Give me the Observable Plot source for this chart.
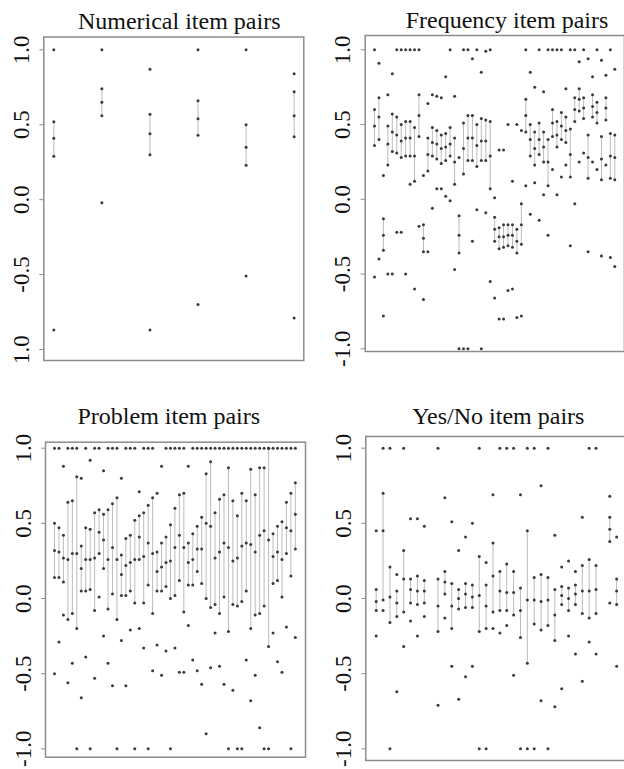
<!DOCTYPE html>
<html><head><meta charset="utf-8">
<script src="https://cdn.jsdelivr.net/npm/d3@7"></script>
<script src="https://cdn.jsdelivr.net/npm/@observablehq/plot@0.6"></script>
<style>
html,body{margin:0;padding:0;background:#fff;}
#root{position:relative;width:624px;height:769px;overflow:hidden;background:#fff;}
#root svg{position:absolute;left:0;top:0;}
#root svg, #root svg text{font-family:"Liberation Serif","Times New Roman","DejaVu Serif",serif !important;}
</style></head><body><div id="root"></div>
<script>
// ---- tick labels ----
const tickValues = [-1, -0.5, 0, 0.5, 1];
const tickLabels = ["-1.0", "-0.5", "0.0", "0.5", "1.0"];
const tickLabelsNumerical = ["1.0", "-0.5", "0.0", "0.5", "1.0"];

// ---- titles ----
const titleNumerical = "Numerical item pairs";
const titleFrequency = "Frequency item pairs";
const titleProblem = "Problem item pairs";
const titleYesNo = "Yes/No item pairs";

// ---- data: per item pair [min, q1, median, q3, max] ----
const numericalStats = [
  [-0.87, 0.29, 0.41, 0.52, 1.0],
  [-0.02, 0.56, 0.65, 0.74, 1.0],
  [-0.87, 0.30, 0.44, 0.57, 0.87],
  [-0.70, 0.43, 0.54, 0.66, 1.0],
  [-0.51, 0.23, 0.35, 0.50, 1.0],
  [-0.79, 0.42, 0.56, 0.72, 0.84]
];

const frequencyStats = [
  [-0.52, 0.36, 0.49, 0.60, 1.0],
  [-0.40, 0.40, 0.55, 0.68, 0.91],
  [-0.78, -0.34, -0.24, -0.13, 0.16],
  [-0.50, 0.23, 0.37, 0.49, 0.70],
  [-0.50, 0.32, 0.45, 0.57, 0.84],
  [-0.22, 0.31, 0.43, 0.55, 1.0],
  [-0.22, 0.28, 0.39, 0.50, 1.0],
  [-0.50, 0.29, 0.41, 0.52, 1.0],
  [0.10, 0.29, 0.41, 0.52, 1.0],
  [-0.60, 0.12, 0.29, 0.48, 1.0],
  [-0.18, 0.42, 0.56, 0.70, 1.0],
  [-0.67, -0.35, -0.26, -0.17, 0.16],
  [-0.35, 0.19, 0.30, 0.41, 0.64],
  [-0.06, 0.29, 0.38, 0.48, 0.70],
  [0.07, 0.27, 0.37, 0.46, 0.69],
  [0.07, 0.24, 0.34, 0.43, 0.68],
  [0.02, 0.26, 0.35, 0.44, 0.82],
  [-0.01, 0.29, 0.37, 0.48, 1.0],
  [-0.47, 0.10, 0.25, 0.41, 0.69],
  [-1.0, -0.36, -0.24, -0.11, 0.28],
  [-1.0, 0.17, 0.34, 0.51, 1.0],
  [-1.0, 0.26, 0.41, 0.56, 1.0],
  [-0.28, 0.26, 0.41, 0.56, 0.94],
  [-0.07, 0.22, 0.36, 0.50, 1.0],
  [-1.0, 0.26, 0.39, 0.54, 0.85],
  [-0.09, 0.26, 0.39, 0.53, 0.99],
  [-0.55, 0.07, 0.29, 0.52, 1.0],
  [-0.66, -0.28, -0.20, -0.12, 0.01],
  [-0.80, -0.33, -0.25, -0.19, 0.33],
  [-0.80, -0.32, -0.25, -0.17, 0.33],
  [-0.61, -0.31, -0.24, -0.17, 0.50],
  [-0.60, -0.32, -0.24, -0.17, 0.12],
  [-0.79, -0.36, -0.28, -0.20, 0.50],
  [-0.78, -0.30, -0.17, -0.03, 0.46],
  [0.09, 0.45, 0.56, 0.67, 1.0],
  [-0.10, 0.29, 0.40, 0.50, 0.85],
  [0.11, 0.23, 0.34, 0.45, 0.75],
  [-0.14, 0.30, 0.40, 0.51, 1.0],
  [0.03, 0.25, 0.35, 0.45, 0.72],
  [-0.24, 0.09, 0.25, 0.40, 1.0],
  [0.20, 0.42, 0.51, 0.60, 1.0],
  [0.03, 0.35, 0.43, 0.52, 1.0],
  [0.15, 0.40, 0.49, 0.58, 1.0],
  [0.23, 0.38, 0.46, 0.55, 0.74],
  [-0.31, 0.15, 0.30, 0.47, 1.0],
  [-0.03, 0.52, 0.60, 0.68, 1.0],
  [0.25, 0.59, 0.67, 0.74, 0.92],
  [0.31, 0.54, 0.61, 0.68, 1.0],
  [-0.35, 0.14, 0.28, 0.43, 0.94],
  [0.25, 0.55, 0.62, 0.70, 0.82],
  [0.20, 0.51, 0.58, 0.65, 1.0],
  [-0.38, 0.13, 0.27, 0.42, 0.93],
  [0.23, 0.53, 0.61, 0.68, 0.83],
  [-0.39, 0.14, 0.29, 0.44, 1.0],
  [-0.45, 0.13, 0.28, 0.43, 0.87]
];

const problemStats = [
  [-0.50, 0.14, 0.32, 0.50, 1.0],
  [-0.29, 0.14, 0.31, 0.47, 1.0],
  [-0.11, 0.11, 0.27, 0.42, 0.88],
  [-0.56, -0.14, 0.26, 0.64, 1.0],
  [-0.43, -0.10, 0.30, 0.65, 1.0],
  [-1.0, -0.20, 0.30, 0.81, 1.0],
  [-0.66, 0.05, 0.20, 0.35, 0.80],
  [-0.39, 0.05, 0.26, 0.47, 1.0],
  [-1.0, 0.06, 0.26, 0.46, 0.92],
  [-0.53, -0.08, 0.27, 0.57, 1.0],
  [0.01, 0.30, 0.44, 0.59, 1.0],
  [-0.25, 0.20, 0.39, 0.56, 0.85],
  [-0.43, -0.07, 0.26, 0.59, 1.0],
  [-0.58, 0.03, 0.34, 0.63, 1.0],
  [-1.0, -0.14, 0.26, 0.67, 1.0],
  [-0.28, 0.02, 0.16, 0.29, 0.80],
  [-0.58, 0.02, 0.22, 0.40, 1.0],
  [-0.21, 0.05, 0.24, 0.42, 1.0],
  [-1.0, -0.03, 0.26, 0.52, 1.0],
  [-0.20, 0.26, 0.41, 0.55, 0.71],
  [-0.33, -0.03, 0.28, 0.57, 1.0],
  [-1.0, 0.09, 0.37, 0.62, 1.0],
  [-0.48, -0.10, 0.30, 0.67, 1.0],
  [-0.31, 0.05, 0.18, 0.31, 0.70],
  [-0.51, 0.05, 0.21, 0.37, 0.88],
  [-0.35, 0.08, 0.24, 0.41, 1.0],
  [-1.0, 0.00, 0.25, 0.49, 1.0],
  [-0.33, 0.02, 0.34, 0.60, 1.0],
  [-0.49, 0.12, 0.42, 0.69, 1.0],
  [-0.49, -0.09, 0.34, 0.70, 1.0],
  [-0.18, 0.09, 0.24, 0.37, 0.88],
  [-0.41, 0.09, 0.26, 0.43, 1.0],
  [-0.48, 0.18, 0.33, 0.48, 1.0],
  [-0.57, 0.10, 0.33, 0.54, 1.0],
  [-0.90, 0.00, 0.50, 0.83, 1.0],
  [-0.46, -0.06, 0.48, 0.91, 1.0],
  [-0.23, -0.04, 0.27, 0.57, 1.0],
  [-0.45, -0.10, 0.31, 0.66, 1.0],
  [-0.57, 0.01, 0.37, 0.69, 1.0],
  [-1.0, -0.22, 0.34, 0.87, 1.0],
  [-0.61, -0.04, 0.25, 0.65, 1.0],
  [-1.0, -0.05, 0.27, 0.55, 1.0],
  [-1.0, -0.02, 0.35, 0.70, 1.0],
  [-0.41, 0.05, 0.37, 0.65, 1.0],
  [-0.68, -0.20, 0.36, 0.86, 1.0],
  [-0.51, -0.11, 0.31, 0.69, 1.0],
  [-0.86, -0.10, 0.42, 0.87, 1.0],
  [-1.0, -0.05, 0.45, 0.87, 1.0],
  [-1.0, -0.32, 0.39, 1.0, 1.0],
  [-0.23, 0.10, 0.28, 0.43, 1.0],
  [-0.42, 0.12, 0.31, 0.48, 1.0],
  [-0.49, 0.01, 0.26, 0.51, 1.0],
  [-0.19, 0.30, 0.47, 0.64, 1.0],
  [-1.0, 0.15, 0.45, 0.70, 1.0],
  [-0.26, 0.33, 0.56, 0.77, 1.0]
];

const yesNoStats = [
  [-0.25, -0.08, -0.02, 0.06, 0.45],
  [-0.08, -0.01, 0.45, 0.70, 1.0],
  [-1.0, -0.16, 0.01, 0.21, 1.0],
  [-0.62, -0.12, -0.03, 0.05, 0.16],
  [-0.32, -0.09, 0.13, 0.32, 1.0],
  [-0.15, -0.03, 0.06, 0.13, 0.53],
  [-0.25, -0.04, 0.05, 0.15, 0.53],
  [-0.12, -0.03, 0.05, 0.12, 0.48],
  null,
  [-0.71, -0.22, -0.05, 0.13, 1.0],
  [-0.13, 0.03, 0.11, 0.18, 0.67],
  [-0.45, -0.20, -0.05, 0.10, 0.51],
  [-0.67, -0.07, 0.00, 0.06, 0.32],
  [-0.52, -0.06, 0.03, 0.10, 0.41],
  [-0.45, -0.06, 0.01, 0.09, 0.50],
  [-1.0, -0.22, 0.02, 0.28, 1.0],
  [-1.0, -0.20, -0.05, 0.09, 0.24],
  [-0.20, -0.09, 0.15, 0.37, 0.69],
  [-0.23, -0.08, 0.05, 0.18, 1.0],
  [-0.18, -0.08, 0.04, 0.23, 1.0],
  [-0.51, -0.11, 0.04, 0.18, 1.0],
  [-1.0, -0.26, -0.08, 0.07, 0.69],
  [-1.0, -0.43, -0.01, 0.45, 1.0],
  [-1.0, -0.17, -0.01, 0.14, 1.0],
  [-0.68, -0.21, -0.02, 0.16, 0.75],
  [-1.0, -0.18, -0.01, 0.14, 1.0],
  [-0.72, -0.28, -0.11, 0.06, 0.42],
  [-0.60, -0.04, 0.02, 0.08, 0.21],
  [-0.25, -0.08, 0.00, 0.07, 0.25],
  [-0.37, -0.04, 0.03, 0.09, 0.18],
  [-0.55, -0.10, 0.05, 0.22, 0.54],
  [-0.29, -0.13, 0.05, 0.26, 1.0],
  [-0.37, -0.10, 0.06, 0.22, 1.0],
  null,
  [-0.03, 0.38, 0.46, 0.54, 0.68],
  [-0.45, -0.04, 0.05, 0.13, 0.41]
];

// ---- layout (page pixels) ----
const SERIF = "Liberation Serif, Times New Roman, DejaVu Serif, serif";
const panels = [
  {stats: numericalStats, title: titleNumerical, labels: tickLabelsNumerical,
   L: 43.3, T: 36.5, R: 303.3, B: 360, y1: 49.3, ym1: 349, x0: 53.3, step: 48.07, tx: 178.7, ty: 28.3},
  {stats: frequencyStats, title: titleFrequency, labels: tickLabels,
   L: 364.7, T: 35, R: 623.9, B: 351, y1: 49.3, ym1: 348.3, x0: 374.0, step: 4.45, tx: 506.5, ty: 27.3},
  {stats: problemStats, title: titleProblem, labels: tickLabels,
   L: 45, T: 441.7, R: 305, B: 756.7, y1: 447.7, ym1: 748.3, x0: 54.0, step: 4.46, tx: 168.3, ty: 423.3},
  {stats: yesNoStats, title: titleYesNo, labels: tickLabels,
   L: 365.3, T: 436, R: 640, B: 760, y1: 447.7, ym1: 748.3, x0: 375.7, step: 6.87, tx: 497.8, ty: 423.3}
];

const root = document.getElementById("root");
const PAGE_H = 769;

for (const p of panels) {
  const unit = (p.ym1 - p.y1) / 2;
  const yTop = 1 + (p.y1 - p.T) / unit;
  const yBot = -1 - (p.B - p.ym1) / unit;
  const xLeft = (p.L - p.x0) / p.step;
  const xRight = (p.R - p.x0) / p.step;
  const W = Math.max(624, Math.ceil(p.R) + 10);
  const rows = p.stats.map((s, i) => s && {i, min: s[0], q1: s[1], med: s[2], q3: s[3], max: s[4]}).filter(Boolean);
  const pts = rows.flatMap(r => [r.min, r.q1, r.med, r.q3, r.max].map(v => ({i: r.i, v})));
  const labelMap = new Map(tickValues.map((v, k) => [v, p.labels[k]]));
  const chart = Plot.plot({
    width: W, height: PAGE_H,
    marginLeft: p.L, marginRight: W - p.R, marginTop: p.T, marginBottom: PAGE_H - p.B,
    x: {domain: [xLeft, xRight], axis: null},
    y: {domain: [yBot, yTop], axis: null},
    style: {fontFamily: SERIF, background: "transparent", maxWidth: "none", overflow: "visible"},
    marks: [
      Plot.ruleX(rows, {x: "i", y1: "q1", y2: "q3", stroke: "#bcbcbc", strokeWidth: 1}),
      Plot.dot(pts, {x: "i", y: "v", r: 1.5, fill: "#3a3a3a", stroke: "none"}),
      Plot.frame({stroke: "#8c8c8c", strokeWidth: 1.5}),
      Plot.axisY(tickValues, {anchor: "left", label: null, tickSize: 4, tickPadding: 11, tickRotate: -90,
        tickFormat: d => labelMap.get(d), fontSize: 23, fontFamily: SERIF, stroke: "#8c8c8c", fill: "#111"}),
      Plot.text([p.title], {frameAnchor: "top-left", dx: p.tx - p.L, dy: p.ty - p.T,
        textAnchor: "middle", lineAnchor: "bottom", fontSize: 24, fontFamily: SERIF, fill: "#111"})
    ]
  });
  root.appendChild(chart);
}
</script>
</body></html>
